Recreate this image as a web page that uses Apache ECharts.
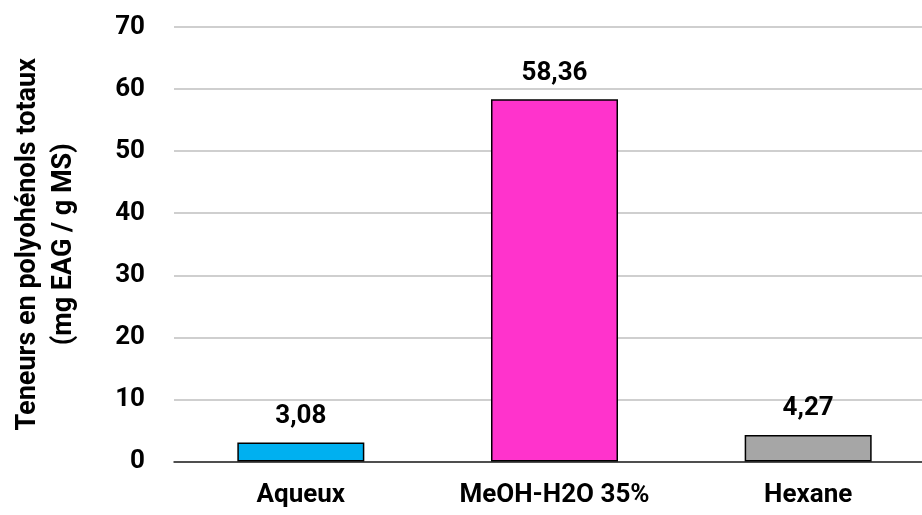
<!DOCTYPE html>
<html>
<head>
<meta charset="utf-8">
<script src="https://cdn.jsdelivr.net/npm/echarts@6/dist/echarts.min.js"></script>
<style>
  html, body { margin: 0; padding: 0; background: #fff; }
  #chart { width: 922px; height: 515px; }
</style>
</head>
<body>
<div id="chart"></div>
<script>
// Total polyphenol content per extract
const categories = ['Aqueux', 'MeOH-H2O 35%', 'Hexane'];
const values = [3.08, 58.36, 4.27];
const barColors = ['#00B0F0', '#FF33CC', '#A6A6A6'];
const yTicks = [0, 10, 20, 30, 40, 50, 60, 70];

const FONT = 'Roboto, "Liberation Sans", sans-serif';
const SIZE = 26;

const chart = echarts.init(document.getElementById('chart'));
chart.setOption({
  animation: false,
  backgroundColor: '#ffffff',
  // plot area runs slightly past the right edge of the canvas
  grid: { left: 174, right: -13, top: 27, bottom: 53.5, containLabel: false, outerBoundsMode: 'none' },
  xAxis: {
    type: 'category',
    data: categories,
    axisLine: { show: true, lineStyle: { color: '#262626', width: 1.5 } },
    axisTick: { show: false },
    axisLabel: {
      color: '#000', fontFamily: FONT, fontWeight: 'bold', fontSize: SIZE, margin: 21
    }
  },
  yAxis: {
    type: 'value',
    min: yTicks[0],
    max: yTicks[yTicks.length - 1],
    interval: 10,
    name: 'Teneurs en polyohénols totaux\n(mg EAG / g MS)',
    nameLocation: 'middle',
    nameGap: 92,
    nameRotate: 90,
    nameTextStyle: {
      color: '#000', fontFamily: FONT, fontWeight: 'bold', fontSize: 27, lineHeight: 36
    },
    axisLine: { show: false },
    axisTick: { show: false },
    axisLabel: {
      color: '#000', fontFamily: FONT, fontWeight: 'bold', fontSize: SIZE, margin: 29
    },
    splitLine: { lineStyle: { color: '#BFBFBF', width: 1.5 } }
  },
  series: [{
    type: 'bar',
    barWidth: 127,
    data: values.map((v, i) => ({
      value: v,
      itemStyle: { color: barColors[i], borderColor: '#000', borderWidth: 1.5 }
    })),
    label: {
      show: true,
      position: 'top',
      distance: 13,
      color: '#000',
      fontFamily: FONT,
      fontWeight: 'bold',
      fontSize: SIZE,
      formatter: p => p.value.toFixed(2).replace('.', ',')
    }
  }]
});
</script>
</body>
</html>
